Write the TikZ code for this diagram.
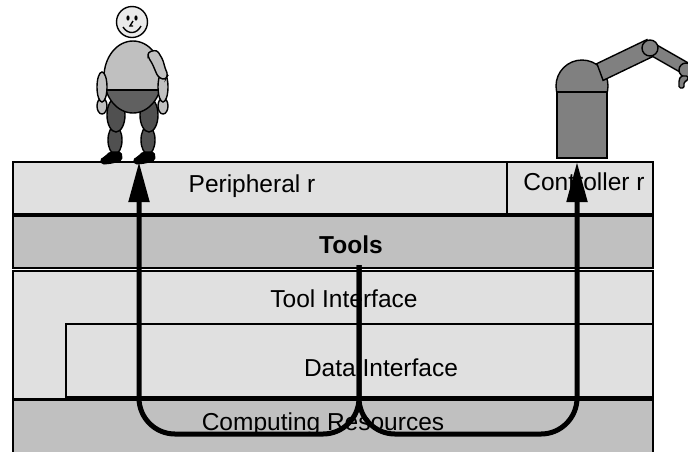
\documentclass[tikz,border=0pt]{standalone}
\usepackage{fontspec}
\setmainfont{Liberation Sans}
\usetikzlibrary{arrows.meta}

\definecolor{rowlight}{HTML}{E0E0E0}
\definecolor{rowdark}{HTML}{C0C0C0}
\definecolor{robotgray}{HTML}{808080}
\definecolor{skin}{HTML}{EAEAEA}
\definecolor{bodylight}{HTML}{C0C0C0}
\definecolor{bodydark}{HTML}{606060}
\definecolor{legdark}{HTML}{505050}

\tikzset{
  layer/.style={draw=black, line width=1.6pt, inner sep=0pt, anchor=north west},
  label/.style={font=\fontsize{24.5}{28}\selectfont, inner sep=0pt},
  flow/.style={line width=5pt, rounded corners=36pt, -{Triangle[length=40pt,width=20pt]}},
  part/.style={draw=black, line width=1.4pt},
}

\begin{document}
\begin{tikzpicture}[x=1pt, y=-1pt]
\useasboundingbox (0,0) rectangle (688,451);

% ---- layer stack ----
\node[layer, fill=rowdark, minimum width=640pt, minimum height=60pt] (compute) at (12,399) {};
\node[layer, fill=rowlight, minimum width=640pt, minimum height=128pt] (toolif) at (12,270) {};
\node[layer, fill=rowlight, minimum width=587pt, minimum height=73pt] (dataif) at (65,323) {};
\node[layer, fill=rowdark, minimum width=640pt, minimum height=52pt] (tools) at (12,215) {};
\node[layer, fill=rowlight, minimum width=494pt, minimum height=52pt] (periph) at (12,161) {};
\node[layer, fill=rowlight, minimum width=146pt, minimum height=52pt] (ctrl) at (506,161) {};

\node[label] (periphtext) at (252,186) {Peripheral r};
\node[label] (ctrltext) at (584,182) {Controller r};
\node[label, font=\fontsize{24.5}{28}\selectfont\bfseries] (toolstext) at (351,245) {Tools};
\node[label] (toolitext) at (344,299) {Tool Interface};
\node[label] (dataitext) at (381,368) {Data Interface};
\node[label] (computetext) at (323,424) {Computing Resources};

% ---- human figure ----
% shins and thighs
\filldraw[part, fill=legdark] (115,140) ellipse[x radius=7pt, y radius=14pt];
\filldraw[part, fill=legdark] (148,140) ellipse[x radius=7pt, y radius=14pt];
\filldraw[part, fill=legdark] (116,115) ellipse[x radius=9pt, y radius=17pt];
\filldraw[part, fill=legdark] (149,115) ellipse[x radius=9pt, y radius=17pt];
% feet
\filldraw[part, fill=black, rounded corners=2pt]
  (110,152) -- (121,152) -- (122,160) -- (112,163) -- (102,164) -- (100,160) -- (105,157) -- cycle;
\filldraw[part, fill=black, rounded corners=2pt]
  (143,152) -- (154,152) -- (155,160) -- (145,163) -- (135,164) -- (133,160) -- (138,157) -- cycle;
% torso: light chest, dark belly
\fill[bodylight] (133,77) ellipse[x radius=29pt, y radius=36pt];
\begin{scope}
  \clip (133,77) ellipse[x radius=29pt, y radius=36pt];
  \fill[bodydark] (100,90) rectangle (170,120);
  \draw[line width=1.4pt] (100,90) -- (170,90);
\end{scope}
\draw[part] (133,77) ellipse[x radius=29pt, y radius=36pt];
% arms and hands
\filldraw[part, fill=bodylight] (102,106) ellipse[x radius=5pt, y radius=8pt];
\filldraw[part, fill=bodylight] (102,87) ellipse[x radius=5pt, y radius=15pt];
\filldraw[part, fill=bodylight] (163,106) ellipse[x radius=5pt, y radius=8pt];
\filldraw[part, fill=bodylight] (163,87) ellipse[x radius=5pt, y radius=15pt];
% shoulder pad
\filldraw[part, fill=bodylight, rounded corners=3pt]
  (148,52) -- (157,50) -- (163,60) -- (165,68) -- (168,75) -- (165,80)
  -- (158,77) -- (155,70) -- (152,63) -- (148,57) -- cycle;
% head and face
\filldraw[part, fill=skin] (132,22) circle[radius=15.5pt];
\fill (128,18) ellipse[x radius=1.6pt, y radius=2.6pt];
\fill (136,18) ellipse[x radius=1.6pt, y radius=2.6pt];
\draw[line width=1.4pt] (133,21) -- (130,26) -- (133,26);
\draw[line width=1.4pt] (123,27) .. controls (128,35) and (137,34) .. (141,26);

% ---- robot ----
\begin{scope}
  \clip (540,40) rectangle (625,92);
  \filldraw[part, fill=robotgray] (582,86) circle[radius=26pt];
\end{scope}
\filldraw[part, fill=robotgray] (557,92) rectangle (607,158);
% upper arm, forearm and joints
\filldraw[part, fill=robotgray] (596.9,63.6) -- (646.9,39.6) -- (653.1,56.4) -- (603.1,80.4) -- cycle;
\filldraw[part, fill=robotgray] (653,42.8) -- (688,62.8) -- (682,73.2) -- (647,53.2) -- cycle;
\filldraw[part, fill=robotgray] (650,48) circle[radius=8pt];
\filldraw[part, fill=robotgray] (686,70) circle[radius=7pt];
\filldraw[part, fill=robotgray, rounded corners=1.5pt]
  (681,76) -- (679,80) -- (679,88) -- (684,88) -- (684,82) -- (688,80) -- (688,76) -- cycle;

% ---- data flows ----
\coordinate (hub) at (359,265);
\coordinate (bend) at (359,434);
\coordinate (usertip) at (139,162);
\coordinate (robottip) at (577,162);
\draw[flow] (hub) -- (bend) -| (usertip);
\draw[flow] (hub) -- (bend) -| (robottip);
\end{tikzpicture}
\end{document}
